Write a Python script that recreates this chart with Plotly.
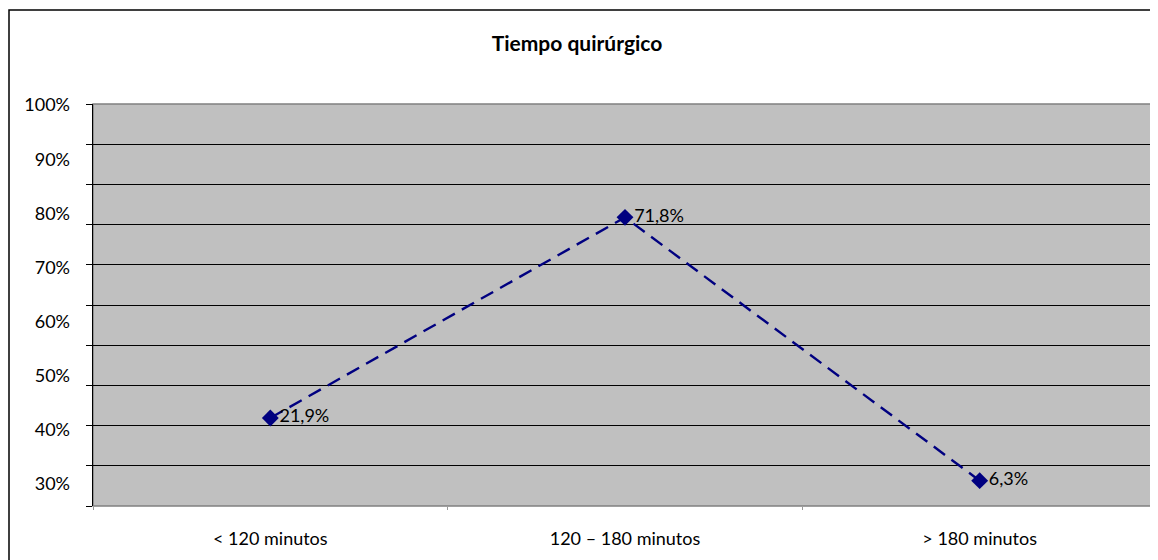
import plotly.graph_objects as go

categories = ["< 120 minutos", "120 – 180 minutos", "> 180 minutos"]
values = [21.9, 71.8, 6.3]
value_labels = ["21,9%", "71,8%", "6,3%"]
axis_tick_vals = [30, 40, 50, 60, 70, 80, 90, 100]
axis_tick_text = ["30%", "40%", "50%", "60%", "70%", "80%", "90%", "100%"]

FONT = "Lato"
fig = go.Figure()
fig.add_trace(go.Scatter(
    x=categories, y=values, mode="lines+markers+text",
    text=value_labels, textposition="middle right",
    textfont=dict(family=FONT, size=18, color="#000000"),
    line=dict(color="#000080", width=2.4, dash="14px,8px"),
    marker=dict(symbol="diamond", size=13, color="#000080"),
    showlegend=False, cliponaxis=False,
))
# invisible trace to bind secondary axis
fig.add_trace(go.Scatter(x=categories, y=[None, None, None], yaxis="y2",
                         showlegend=False, hoverinfo="skip"))

fig.update_layout(
    width=1150, height=552,
    margin=dict(l=85, r=1, t=96, b=54),
    paper_bgcolor="white", plot_bgcolor="#C0C0C0",
    font=dict(family=FONT, size=18, color="#000000"),
    title=dict(text="<b>Tiempo quirúrgico</b>", x=(577 - 8) / 1150, xanchor="center",
               y=1 - 36 / 552, yanchor="middle",
               font=dict(family=FONT, size=21, color="#000000")),
    xaxis=dict(type="category", range=[-0.5, 2.5], showgrid=False,
               tickson="boundaries", ticks="outside", ticklen=3,
               tickcolor="#999999", ticklabelstandoff=20,
               showline=False, zeroline=False,
               tickfont=dict(family=FONT, size=18, color="#000000")),
    yaxis=dict(range=[0, 100], dtick=10, showgrid=True, gridcolor="#000000",
               gridwidth=1, showticklabels=False, ticks="outside", ticklen=6,
               tickcolor="#000000", showline=True, linecolor="#000000",
               linewidth=1, zeroline=False, fixedrange=True),
    yaxis2=dict(range=[25.9, 100.2], overlaying="y", anchor="x", side="left",
                tickvals=axis_tick_vals, ticktext=axis_tick_text,
                showgrid=False, ticks="", ticklabelstandoff=22,
                showline=False, zeroline=False,
                tickfont=dict(family=FONT, size=18, color="#000000")),
    shapes=[
        dict(type="rect", xref="paper", yref="paper", x0=0, x1=1, y0=0, y1=1,
             line=dict(color="#808080", width=1.5), layer="below"),
        dict(type="rect", xref="paper", yref="paper",
             x0=(9 - 93) / 1064, x1=1.2, y0=-0.3, y1=(506 - 10) / 402,
             line=dict(color="#000000", width=1.5)),
    ],
)
fig.write_html("out.html")
